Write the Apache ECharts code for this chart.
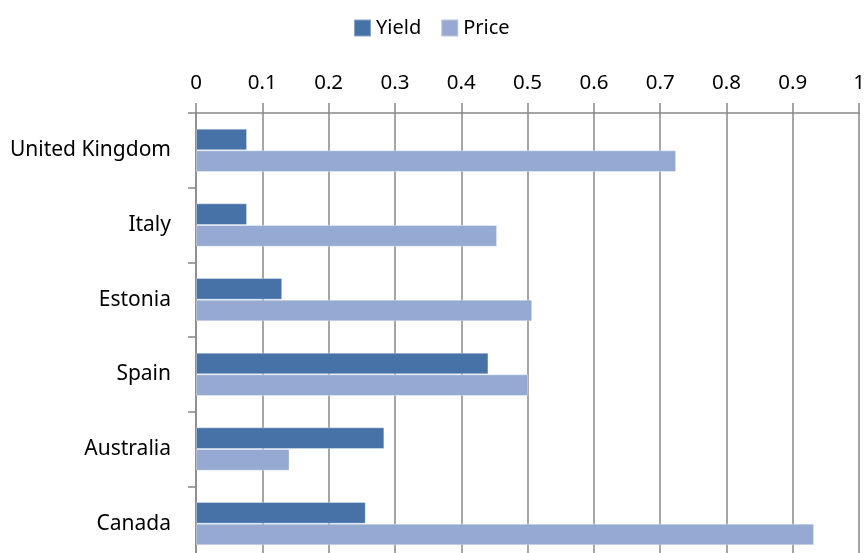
<!DOCTYPE html>
<html>
<head>
<meta charset="utf-8">
<script src="https://cdn.jsdelivr.net/npm/echarts@6/dist/echarts.min.js"></script>
<style>
html,body{margin:0;padding:0;background:#fff;overflow:hidden;}
#chart{width:868px;height:561px;}
</style>
</head>
<body>
<div id="chart"></div>
<script>
const categories = ["United Kingdom", "Italy", "Estonia", "Spain", "Australia", "Canada"];
const yieldValues = [0.077, 0.077, 0.130, 0.441, 0.284, 0.256];
const priceValues = [0.724, 0.454, 0.507, 0.501, 0.141, 0.932];
const seriesNames = ["Yield", "Price"];

const chart = echarts.init(document.getElementById('chart'), null, {renderer: 'canvas'});
const FONT = '"Noto Sans", "Open Sans", sans-serif';
const GRID_COLOR = '#888888';
chart.setOption({
  animation: false,
  backgroundColor: '#ffffff',
  textStyle: {fontFamily: FONT},
  legend: {
    data: seriesNames,
    left: 353,
    top: 18,
    icon: 'rect',
    itemWidth: 17,
    itemHeight: 17,
    itemGap: 19,
    textStyle: {fontFamily: FONT, fontSize: 20, color: '#000', padding: [0, 0, 0, 0]},
    padding: 0
  },
  grid: {left: 196, top: 113, width: 665, height: 448, containLabel: false},
  xAxis: {
    type: 'value',
    position: 'top',
    min: 0,
    max: 1,
    interval: 0.1,
    axisLine: {show: true, lineStyle: {color: GRID_COLOR, width: 1.5}},
    axisTick: {show: true, length: 10, lineStyle: {color: GRID_COLOR, width: 1.5}},
    axisLabel: {fontFamily: FONT, fontSize: 20.5, color: '#000', margin: 19},
    splitLine: {show: true, lineStyle: {color: GRID_COLOR, width: 1.5}}
  },
  yAxis: {
    type: 'category',
    inverse: true,
    data: categories,
    axisLine: {show: true, lineStyle: {color: GRID_COLOR, width: 1.5}},
    axisTick: {show: true, length: 8, lineStyle: {color: GRID_COLOR, width: 1.5}},
    axisLabel: {fontFamily: FONT, fontSize: 21, color: '#000', margin: 25},
    splitLine: {show: false}
  },
  series: [
    {
      name: seriesNames[0],
      type: 'bar',
      data: yieldValues,
      barGap: '0%',
      barCategoryGap: '42%',
      itemStyle: {color: '#4672A8', borderColor: 'rgba(255,255,255,0.35)', borderWidth: 1}
    },
    {
      name: seriesNames[1],
      type: 'bar',
      data: priceValues,
      barGap: '0%',
      barCategoryGap: '42%',
      itemStyle: {color: '#95A9D2', borderColor: 'rgba(255,255,255,0.35)', borderWidth: 1}
    }
  ]
});
</script>
</body>
</html>
